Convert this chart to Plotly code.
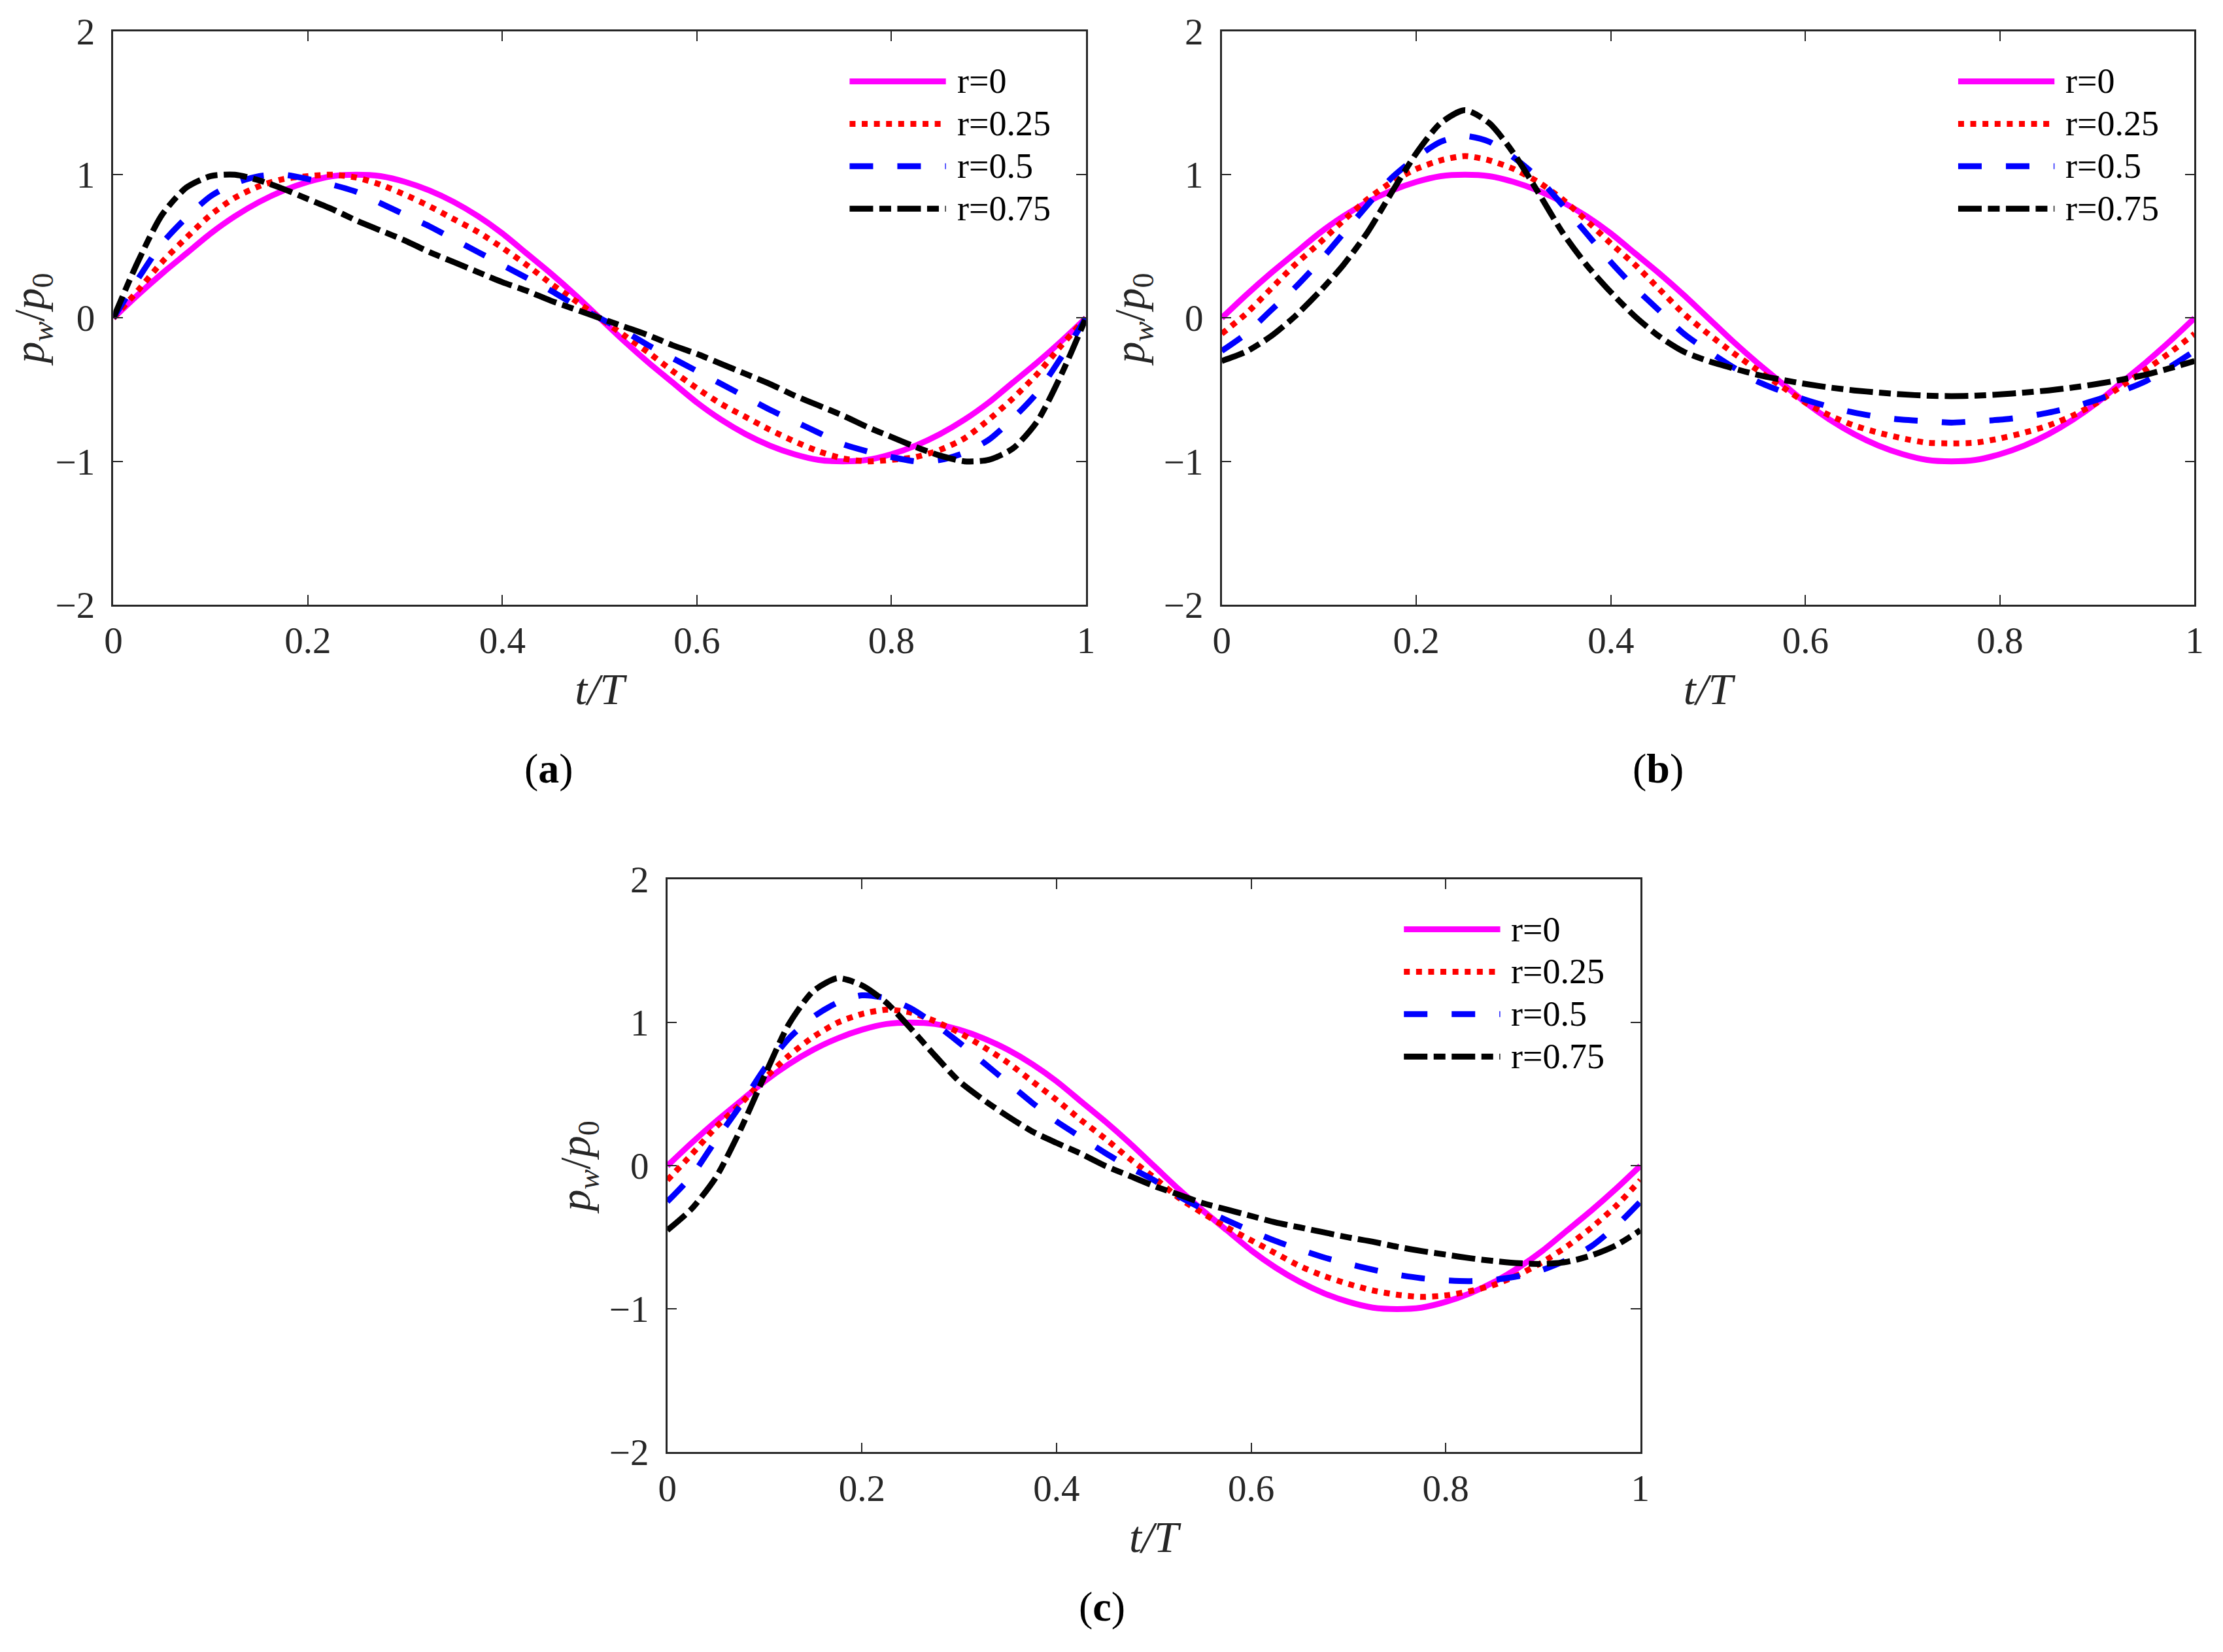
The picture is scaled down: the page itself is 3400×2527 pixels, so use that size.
import plotly.graph_objects as go

# sampling of t/T used for every curve
t_T = [0, 0.025, 0.05, 0.075, 0.1, 0.125, 0.15, 0.175, 0.2, 0.225, 0.25,
       0.275, 0.3, 0.325, 0.35, 0.375, 0.4, 0.425, 0.45, 0.475, 0.5,
       0.525, 0.55, 0.575, 0.6, 0.625, 0.65, 0.675, 0.7, 0.725, 0.75,
       0.775, 0.8, 0.825, 0.85, 0.875, 0.9, 0.925, 0.95, 0.975, 1.0]

labels = ['r=0', 'r=0.25', 'r=0.5', 'r=0.75']

# r=0 is the same in all three panels
pw_r0 = [0, 0.16, 0.31, 0.45, 0.59, 0.71, 0.81, 0.89, 0.95, 0.99, 1.0,
         0.99, 0.95, 0.89, 0.81, 0.71, 0.59, 0.45, 0.31, 0.16, 0,
         -0.16, -0.31, -0.45, -0.59, -0.71, -0.81, -0.89, -0.95, -0.99, -1.0,
         -0.99, -0.95, -0.89, -0.81, -0.71, -0.59, -0.45, -0.31, -0.16, 0]

# panel (a)
a_r25 = [0, 0.19, 0.39, 0.56, 0.72, 0.84, 0.92, 0.97, 0.99, 1.0, 0.98,
         0.93, 0.86, 0.78, 0.69, 0.6, 0.49, 0.37, 0.24, 0.12, 0,
         -0.12, -0.24, -0.37, -0.49, -0.6, -0.69, -0.78, -0.86, -0.93, -0.98,
         -1.0, -0.99, -0.97, -0.92, -0.84, -0.71, -0.56, -0.39, -0.19, 0]
a_r50 = [0, 0.27, 0.52, 0.7, 0.85, 0.94, 0.99, 1.0, 0.97, 0.93, 0.88,
         0.8, 0.72, 0.64, 0.55, 0.46, 0.37, 0.28, 0.19, 0.09, 0,
         -0.09, -0.19, -0.28, -0.37, -0.46, -0.55, -0.64, -0.72, -0.8, -0.88,
         -0.93, -0.97, -1.0, -0.99, -0.94, -0.85, -0.7, -0.52, -0.27, 0]
a_r75 = [0, 0.39, 0.72, 0.91, 0.99, 1.0, 0.96, 0.9, 0.83, 0.76, 0.68,
         0.61, 0.54, 0.46, 0.39, 0.32, 0.25, 0.19, 0.12, 0.06, 0,
         -0.06, -0.12, -0.19, -0.25, -0.32, -0.39, -0.46, -0.54, -0.61, -0.68,
         -0.76, -0.83, -0.9, -0.96, -1.0, -0.99, -0.91, -0.72, -0.39, 0]

# panel (b)
b_r25 = [-0.11, 0.03, 0.2, 0.37, 0.52, 0.68, 0.83, 0.95, 1.04, 1.1, 1.13,
         1.1, 1.04, 0.95, 0.83, 0.68, 0.52, 0.37, 0.2, 0.03, -0.11,
         -0.24, -0.36, -0.475, -0.59, -0.68, -0.75, -0.8, -0.84, -0.87, -0.875,
         -0.87, -0.84, -0.8, -0.75, -0.68, -0.59, -0.475, -0.36, -0.24, -0.11]
b_r50 = [-0.23, -0.11, 0.05, 0.21, 0.39, 0.59, 0.79, 0.98, 1.12, 1.23, 1.27,
         1.23, 1.12, 0.98, 0.79, 0.59, 0.39, 0.21, 0.05, -0.11, -0.23,
         -0.34, -0.44, -0.51, -0.57, -0.62, -0.66, -0.69, -0.71, -0.72, -0.73,
         -0.72, -0.71, -0.69, -0.66, -0.62, -0.57, -0.51, -0.44, -0.34, -0.23]
b_r75 = [-0.3, -0.235, -0.13, 0.01, 0.18, 0.37, 0.6, 0.88, 1.15, 1.36, 1.45,
         1.36, 1.15, 0.88, 0.6, 0.37, 0.18, 0.01, -0.13, -0.235, -0.3,
         -0.35, -0.395, -0.43, -0.46, -0.485, -0.505, -0.52, -0.533, -0.542, -0.545,
         -0.542, -0.533, -0.52, -0.505, -0.485, -0.46, -0.43, -0.395, -0.35, -0.3]

# panel (c)
c_r25 = [-0.1, 0.08, 0.27, 0.43, 0.61, 0.77, 0.9, 1.0, 1.06, 1.09, 1.07,
         1.01, 0.93, 0.83, 0.72, 0.59, 0.46, 0.32, 0.19, 0.05, -0.08,
         -0.22, -0.33, -0.43, -0.52, -0.61, -0.7, -0.77, -0.825, -0.87, -0.9,
         -0.915, -0.905, -0.875, -0.83, -0.76, -0.67, -0.56, -0.43, -0.28, -0.1]
c_r50 = [-0.25, -0.07, 0.18, 0.42, 0.68, 0.89, 1.04, 1.14, 1.19, 1.17, 1.1,
         0.99, 0.86, 0.72, 0.58, 0.44, 0.31, 0.2, 0.09, -0.01, -0.1,
         -0.21, -0.3, -0.38, -0.455, -0.525, -0.585, -0.64, -0.685, -0.725, -0.76,
         -0.785, -0.8, -0.805, -0.795, -0.77, -0.725, -0.655, -0.56, -0.42, -0.25]
c_r75 = [-0.45, -0.3, -0.08, 0.25, 0.63, 0.99, 1.22, 1.31, 1.26, 1.14, 0.96,
         0.77, 0.59, 0.46, 0.345, 0.24, 0.16, 0.085, 0.0, -0.07, -0.14,
         -0.2, -0.26, -0.305, -0.35, -0.395, -0.43, -0.465, -0.5, -0.53, -0.565,
         -0.595, -0.62, -0.645, -0.665, -0.68, -0.685, -0.67, -0.625, -0.555, -0.45]

x_ticks = [0, 0.2, 0.4, 0.6, 0.8, 1]
y_ticks = [-2, -1, 0, 1, 2]

COLORS = ['#ff00ff', '#ff0000', '#0000ff', '#000000']
DASHES = ['solid', '9px,9.6px', '36px,37px', '36px,9.5px,18px,9.5px']
LINE_W = 9
SERIF = 'Liberation Serif'
AXIS_COL = '#262626'

# the page body adds a small margin, pull everything back by that much
DX = 8 / 3400
DY = 8 / 2527

# (x axis, y axis, x domain, y domain, curves, panel letter, label position)
PANELS = [
    ('x', 'y', [0.0510, 0.4885], [0.634, 0.981], [pw_r0, a_r25, a_r50, a_r75], 'a', (0.2468, 0.535)),
    ('x2', 'y2', [0.5496, 0.9872], [0.634, 0.981], [pw_r0, b_r25, b_r50, b_r75], 'b', (0.7459, 0.535)),
    ('x3', 'y3', [0.3002, 0.7379], [0.1209, 0.4677], [pw_r0, c_r25, c_r50, c_r75], 'c', (0.4956, 0.0275)),
]

# legend key, as fractions of the panel box
LEG_X = [0.757, 0.856]
LEG_TEXT_X = 0.866
LEG_Y = [0.9128, 0.8387, 0.7647, 0.6906]


def to_paper(dom, frac):
    return dom[0] + frac * (dom[1] - dom[0])


def add_panel(fig, xa, ya, curves):
    """draws the four curves of one panel"""
    for i, ys in enumerate(curves):
        fig.add_trace(go.Scatter(
            x=t_T, y=ys, xaxis=xa, yaxis=ya, mode='lines',
            name=labels[i], showlegend=False,
            line=dict(color=COLORS[i], width=LINE_W, dash=DASHES[i],
                      shape='spline', smoothing=0.7),
        ))


def add_key(fig, xdom, ydom):
    """matlab-like legend: long line samples with the label to the right"""
    for i, lab in enumerate(labels):
        yp = to_paper(ydom, LEG_Y[i])
        fig.add_shape(type='line', xref='paper', yref='paper',
                      x0=to_paper(xdom, LEG_X[0]), x1=to_paper(xdom, LEG_X[1]),
                      y0=yp, y1=yp,
                      line=dict(color=COLORS[i], width=LINE_W, dash=DASHES[i]))
        fig.add_annotation(xref='paper', yref='paper',
                           x=to_paper(xdom, LEG_TEXT_X), y=yp, text=lab,
                           showarrow=False, xanchor='left', yanchor='middle',
                           font=dict(family=SERIF, size=54, color='black'))


fig = go.Figure()
layout = {}
for xa, ya, xdom, ydom, curves, letter, pos in PANELS:
    xdom = [xdom[0] - DX, xdom[1] - DX]
    ydom = [ydom[0] + DY, ydom[1] + DY]
    add_panel(fig, xa, ya, curves)
    add_key(fig, xdom, ydom)
    xkey = 'xaxis' + xa[1:]
    ykey = 'yaxis' + ya[1:]
    common = dict(showgrid=False, zeroline=False, showline=True, mirror='ticks',
                  automargin=False,
                  linecolor=AXIS_COL, linewidth=2.5, ticks='inside', ticklen=15,
                  tickwidth=2, tickcolor=AXIS_COL,
                  tickfont=dict(family=SERIF, size=57, color=AXIS_COL))
    layout[xkey] = dict(common, domain=xdom, anchor=ya, range=[0, 1],
                        tickvals=x_ticks, ticktext=[str(v) for v in x_ticks],
                        ticklabelstandoff=3,
                        title=dict(text='t/T', standoff=20,
                                   font=dict(family=SERIF, size=68, color=AXIS_COL,
                                             style='italic')))
    layout[ykey] = dict(common, domain=ydom, anchor=xa, range=[-2, 2],
                        tickvals=y_ticks, ticklabelstandoff=14,
                        title=dict(text='<i>p</i><sub><i>w</i></sub>/<i>p</i><sub>0</sub>',
                                   standoff=8,
                                   font=dict(family=SERIF, size=66, color=AXIS_COL)))
    fig.add_annotation(xref='paper', yref='paper', x=pos[0] - DX, y=pos[1] + DY,
                       text='(<b>' + letter + '</b>)', showarrow=False,
                       xanchor='center', yanchor='middle',
                       font=dict(family=SERIF, size=64, color='black'))

fig.update_layout(
    width=3400, height=2527,
    margin=dict(l=0, r=0, t=0, b=0),
    paper_bgcolor='white', plot_bgcolor='white',
    showlegend=False,
    **layout
)

fig.write_html("out.html")
